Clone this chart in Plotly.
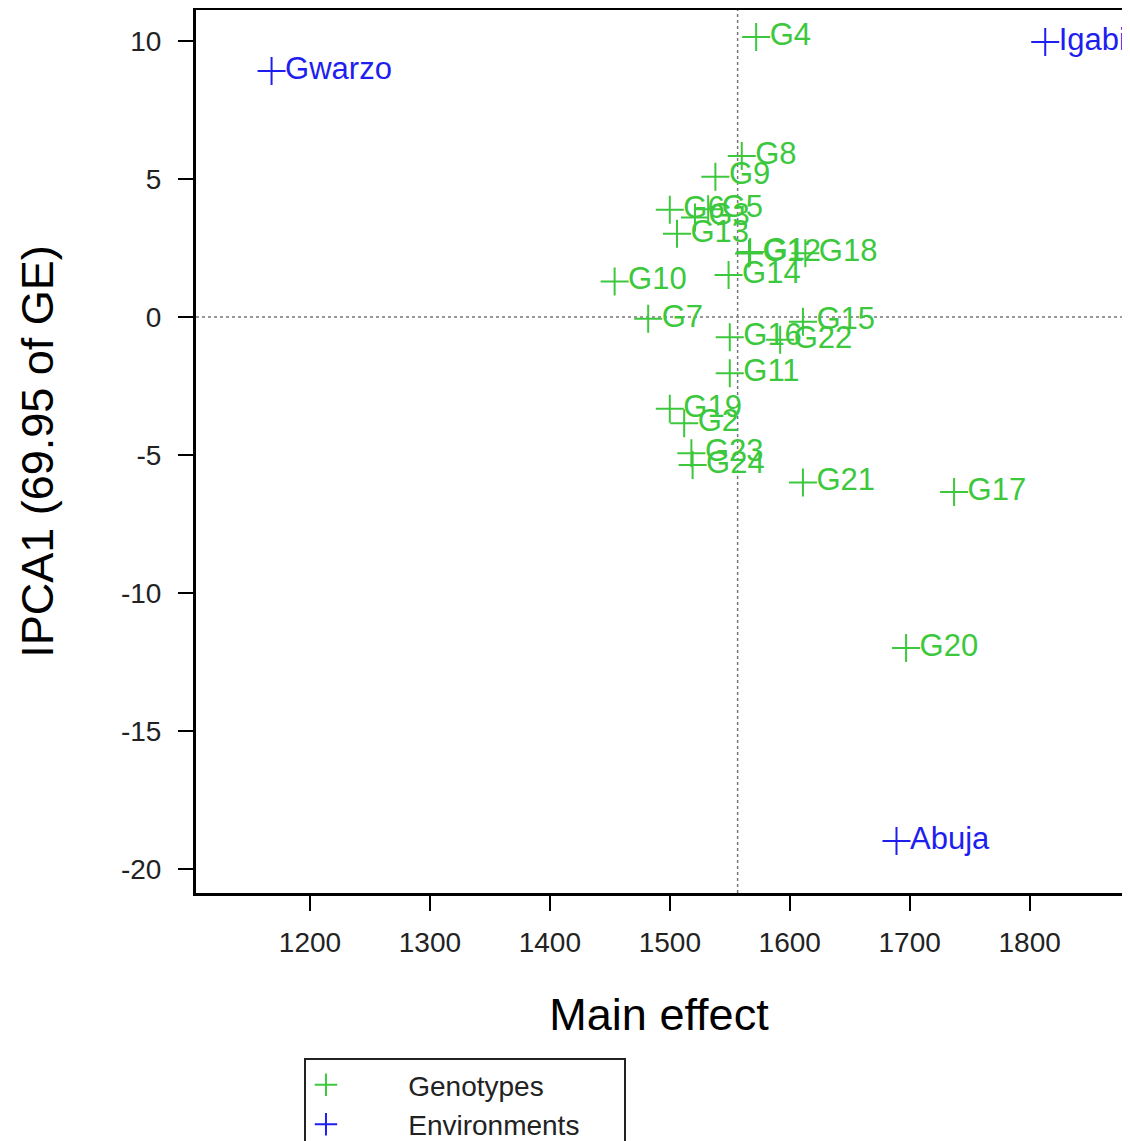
import numpy as np
import plotly.graph_objects as go

# Genotype scores (main effect, IPCA1)
gen_names = ["G1", "G2", "G3", "G4", "G5", "G6", "G7", "G8", "G9", "G10", "G11", "G12",
             "G13", "G14", "G15", "G16", "G17", "G18", "G19", "G20", "G21", "G22", "G23", "G24"]
gen_main = [1567, 1512, 1521, 1572, 1532, 1500, 1482, 1560, 1538, 1454, 1550, 1566,
            1506, 1549, 1611, 1550, 1737, 1613, 1500, 1697, 1611, 1592, 1518, 1519]
gen_ipca = [2.35, -3.85, 3.6, 10.14, 3.9, 3.88, -0.07, 5.83, 5.08, 1.28, -2.04, 2.3,
            3.01, 1.52, -0.17, -0.74, -6.34, 2.31, -3.33, -11.99, -6.0, -0.83, -4.94, -5.36]

# Environment scores
env_names = ["Abuja", "Gwarzo", "Igabi"]
env_main = [1689, 1168, 1813]
env_ipca = [-18.99, 8.91, 9.96]

x_ticks = [1200, 1300, 1400, 1500, 1600, 1700, 1800]
y_ticks = [10, 5, 0, -5, -10, -15, -20]
y_tick_text = ["10", "5", "0", "-5", "-10", "-15", "-20"]

grand_mean = float(np.mean(gen_main))

FONT = "Liberation Sans, Arial, sans-serif"
GREEN = "#3CC83C"
BLUE = "#1E1EF0"
NB = "\u00a0"

fig = go.Figure()
fig.add_trace(go.Scatter(
    x=gen_main, y=gen_ipca, text=gen_names, mode="markers+text",
    name=NB * 8 + "Genotypes",
    marker=dict(symbol="cross-thin", size=20, color=GREEN, line=dict(color=GREEN, width=2)),
    textposition="middle right", textfont=dict(family=FONT, size=31, color=GREEN),
    cliponaxis=False,
))
fig.add_trace(go.Scatter(
    x=env_main, y=env_ipca, text=env_names, mode="markers+text",
    name=NB * 8 + "Environments" + NB * 5,
    marker=dict(symbol="cross-thin", size=20, color=BLUE, line=dict(color=BLUE, width=2)),
    textposition="middle right", textfont=dict(family=FONT, size=31, color=BLUE),
    cliponaxis=False,
))

fig.add_vline(x=grand_mean, line=dict(color="#777777", width=1.5, dash="dot"), layer="below")
fig.add_hline(y=0, line=dict(color="#777777", width=1.5, dash="dot"), layer="below")

fig.update_layout(
    width=1122, height=1133,
    margin=dict(l=188, r=8, t=2, b=248, autoexpand=False),
    paper_bgcolor="white", plot_bgcolor="white",
    font=dict(family=FONT, color="black"),
    showlegend=True,
    legend=dict(
        x=0.1166, y=-0.187, xanchor="left", yanchor="top",
        bordercolor="#222222", borderwidth=2,
        font=dict(family=FONT, size=28, color="#222222"),
        itemwidth=30, tracegroupgap=0,
    ),
    xaxis=dict(
        range=[1105, 1877], tickvals=x_ticks, ticks="outside", ticklen=15, tickwidth=2,
        tickcolor="black", showline=True, linecolor="black", linewidth=3, mirror=True,
        showgrid=False, zeroline=False, tickfont=dict(size=28, color="#222222"),
        ticklabelstandoff=7, automargin=False,
        title=dict(text="Main effect", font=dict(size=45, color="black"), standoff=42),
    ),
    yaxis=dict(
        range=[-20.87, 11.12], tickvals=y_ticks, ticktext=y_tick_text, ticks="outside",
        ticklen=15, tickwidth=2,
        tickcolor="black", showline=True, linecolor="black", linewidth=3, mirror=True,
        showgrid=False, zeroline=False, tickfont=dict(size=28, color="#222222"),
        ticklabelstandoff=11, automargin=False,
        title=dict(text="IPCA1 (69.95 of GE)", font=dict(size=45, color="black"), standoff=54),
    ),
)

fig.write_html("out.html")
